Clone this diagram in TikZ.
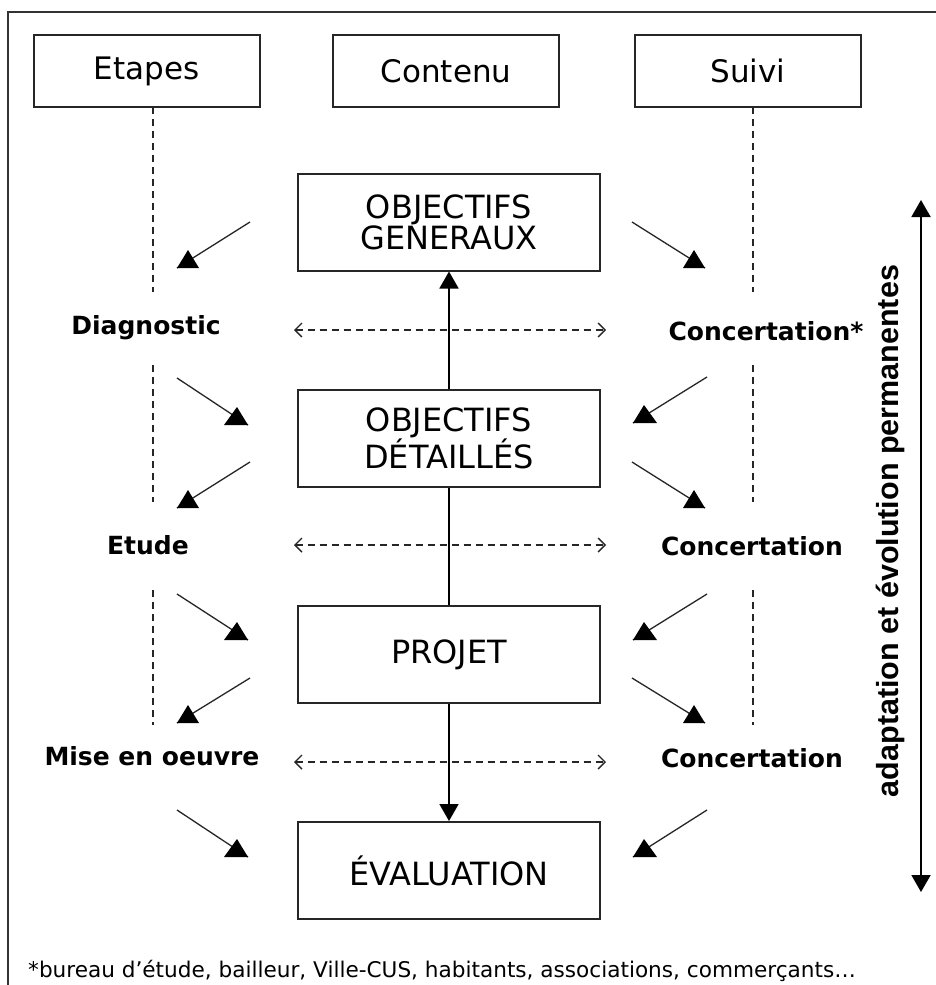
\documentclass[tikz,border=0pt]{standalone}
\usepackage{fontspec}
\setmainfont{DejaVu Sans}
\newfontfamily\vfont{Liberation Sans}
\usetikzlibrary{arrows.meta}
\tikzset{
  frameline/.style={draw=black!80,line width=2.5pt},
  hbox/.style={draw=black!85,line width=2pt,minimum width=226pt,minimum height=72pt,inner sep=0pt,font=\fontsize{31}{36}\selectfont},
  cbox/.style={draw=black!85,line width=2pt,minimum width=302pt,minimum height=97pt,inner sep=0pt,align=center,font=\fontsize{32}{31}\selectfont},
  lab/.style={font=\fontsize{25}{30}\selectfont\bfseries,inner sep=0pt},
  vdash/.style={draw=black!85,dash pattern=on 7pt off 5pt,line width=1.4pt},
  hdash/.style={draw=black!85,dash pattern=on 7pt off 5pt,line width=1.5pt,{Straight Barb[length=7pt,width=14pt,line width=1.4pt]}-{Straight Barb[length=7pt,width=14pt,line width=1.4pt]}},
  diag/.style={draw=black!85,line width=1.3pt},
  headfill/.style={fill=black},
  varr/.style={draw=black,line width=1.8pt,-{Triangle[length=17pt,width=19pt]}},
  vplain/.style={draw=black,line width=1.8pt},
  bigarr/.style={draw=black,line width=2pt,{Triangle[length=17pt,width=19pt]}-{Triangle[length=17pt,width=19pt]}},
  foot/.style={font=\fontsize{21.6}{25}\selectfont,inner sep=0pt,anchor=west}
}
\begin{document}
\begin{tikzpicture}[x=1pt,y=-1pt]
\useasboundingbox (0,0) rectangle (936,985);
\fill[white] (0,0) rectangle (936,985);
% frame
\draw[frameline] (8,985) -- (8,12) -- (936,12);
% header boxes
\node[hbox] (etapes) at (146.5,71) {Etapes};
\node[hbox] (contenu) at (446,71) {Contenu};
\node[hbox] (suivi) at (748,71) {Suivi};
% center boxes
\node[cbox] (og) at (449,222) {OBJECTIFS\\GENERAUX};
\node[cbox] (od) at (449,438.5) {OBJECTIFS\\DÉTAILLÉS};
\node[cbox] (pj) at (449,654.5) {PROJET};
\node[cbox] (ev) at (449,870.5) {ÉVALUATION};
% labels
\node[lab] (diag) at (146,328) {Diagnostic};
\node[lab] (etude) at (148,545) {Etude};
\node[lab] (mise) at (152,756) {Mise en oeuvre};
\node[lab] (c1) at (766,331) {Concertation*};
\node[lab] (c2) at (752,546) {Concertation};
\node[lab] (c3) at (752,758) {Concertation};
% dashed vertical lines
\coordinate (l1a) at (153,107); \coordinate (l1b) at (153,292);
\coordinate (l2a) at (153,365); \coordinate (l2b) at (153,502);
\coordinate (l3a) at (153,590); \coordinate (l3b) at (153,725);
\coordinate (r1a) at (753,107); \coordinate (r1b) at (753,292);
\coordinate (r2a) at (753,365); \coordinate (r2b) at (753,502);
\coordinate (r3a) at (753,590); \coordinate (r3b) at (753,725);
\draw[vdash] (l1a) -- (l1b); \draw[vdash] (l2a) -- (l2b); \draw[vdash] (l3a) -- (l3b);
\draw[vdash] (r1a) -- (r1b); \draw[vdash] (r2a) -- (r2b); \draw[vdash] (r3a) -- (r3b);
% horizontal dashed double arrows
\coordinate (h1a) at (294,330); \coordinate (h1b) at (606,330);
\coordinate (h2a) at (294,545); \coordinate (h2b) at (606,545);
\coordinate (h3a) at (294,762); \coordinate (h3b) at (606,762);
\draw[hdash] (h1a) -- (h1b);
\draw[hdash] (h2a) -- (h2b);
\draw[hdash] (h3a) -- (h3b);
% central arrows
\draw[varr] (od.north) -- (og.south);
\draw[vplain] (od.south) -- (pj.north);
\draw[varr] (pj.south) -- (ev.north);
% diagonal arrows, left side
\foreach \ya/\yb [count=\i] in {222/268,462/508,678/723}{
  \coordinate (lsw\i s) at (250,\ya); \coordinate (lsw\i e) at (177,\yb);
  \draw[diag] (lsw\i s) -- (lsw\i e);
  \fill[headfill] (lsw\i e) -- ++(22,0) -- ++(-11,-18) -- cycle;
}
\foreach \ya/\yb [count=\i] in {378/425,594/640,810/857}{
  \coordinate (lse\i s) at (177,\ya); \coordinate (lse\i e) at (248,\yb);
  \draw[diag] (lse\i s) -- (lse\i e);
  \fill[headfill] (lse\i e) -- ++(-24,0) -- ++(13,-18) -- cycle;
}
% diagonal arrows, right side
\foreach \ya/\yb [count=\i] in {222/268,462/508,678/723}{
  \coordinate (rse\i s) at (632,\ya); \coordinate (rse\i e) at (705,\yb);
  \draw[diag] (rse\i s) -- (rse\i e);
  \fill[headfill] (rse\i e) -- ++(-22,0) -- ++(11,-18) -- cycle;
}
\foreach \ya/\yb [count=\i] in {377/423,594/640,810/857}{
  \coordinate (rsw\i s) at (707,\ya); \coordinate (rsw\i e) at (633,\yb);
  \draw[diag] (rsw\i s) -- (rsw\i e);
  \fill[headfill] (rsw\i e) -- ++(24,0) -- ++(-13,-18) -- cycle;
}
% right double arrow and vertical text
\coordinate (vt) at (921,200); \coordinate (vb) at (921,892);
\draw[bigarr] (vt) -- (vb);
\node[rotate=90,inner sep=0pt,font=\vfont\bfseries\fontsize{30.5}{34}\selectfont] (adapt) at (890,531) {adaptation et évolution permanentes};
% footnote
\node[foot] (fn) at (28,971) {*bureau d’étude, bailleur, Ville-CUS, habitants, associations, commerçants…};
\end{tikzpicture}
\end{document}
